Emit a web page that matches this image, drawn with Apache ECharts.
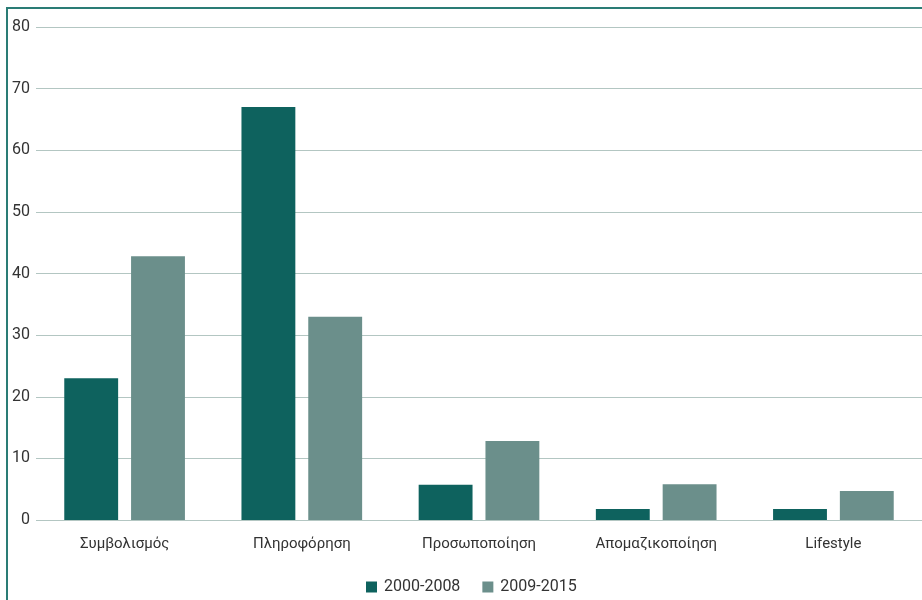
<!DOCTYPE html>
<html>
<head>
<meta charset="utf-8">
<script src="https://cdn.jsdelivr.net/npm/echarts@6/dist/echarts.min.js"></script>
<style>
  html, body { margin: 0; padding: 0; background: #fff; }
  #chart { width: 922px; height: 600px; }
</style>
</head>
<body>
<div id="chart"></div>
<script>
const categories = ['Συμβολισμός', 'Πληροφόρηση', 'Προσωποποίηση', 'Απομαζικοποίηση', 'Lifestyle']
const seriesNames = ['2000-2008', '2009-2015']
const values2000 = [23, 67, 5.7, 1.8, 1.8]
const values2009 = [42.8, 33, 12.8, 5.8, 4.7]
const yTicks = [0, 10, 20, 30, 40, 50, 60, 70, 80]

const FONT = 'Roboto, "Noto Sans", sans-serif'
const DARK = '#0e625e'
const LIGHT = '#6b8f8b'
const FRAME = '#2a7c75'

let chart = echarts.init(document.getElementById('chart'))
chart.setOption({
  animation: false,
  textStyle: { fontFamily: FONT },
  grid: { left: 36, right: 0, top: 27, bottom: 80 },
  legend: {
    data: seriesNames,
    top: 574,
    left: 361,
    itemWidth: 11,
    itemHeight: 11,
    itemGap: 22,
    icon: 'rect',
    textStyle: { color: '#333', fontSize: 16, fontFamily: FONT, padding: [0, 0, 0, 2] }
  },
  graphic: [
    { type: 'line', shape: { x1: 7, y1: 8, x2: 922, y2: 8 }, style: { stroke: FRAME, lineWidth: 2 } },
    { type: 'line', shape: { x1: 7, y1: 7, x2: 7, y2: 600 }, style: { stroke: FRAME, lineWidth: 2 } }
  ],
  xAxis: {
    type: 'category',
    data: categories,
    axisLine: { show: false },
    axisTick: { show: false },
    axisLabel: { color: '#333', fontSize: 15, margin: 17, fontFamily: FONT }
  },
  yAxis: {
    type: 'value',
    min: yTicks[0],
    max: yTicks[yTicks.length - 1],
    interval: 10,
    axisLine: { show: false },
    axisTick: { show: false },
    axisLabel: { color: '#333', fontSize: 16, margin: 6, fontFamily: FONT },
    splitLine: { lineStyle: { color: '#b3c6c2', width: 1 } }
  },
  series: [
    {
      name: seriesNames[0],
      type: 'bar',
      data: values2000,
      barWidth: '30.4%',
      barGap: '24%',
      itemStyle: { color: DARK }
    },
    {
      name: seriesNames[1],
      type: 'bar',
      data: values2009,
      barWidth: '30.4%',
      itemStyle: { color: LIGHT }
    }
  ]
})
</script>
</body>
</html>
